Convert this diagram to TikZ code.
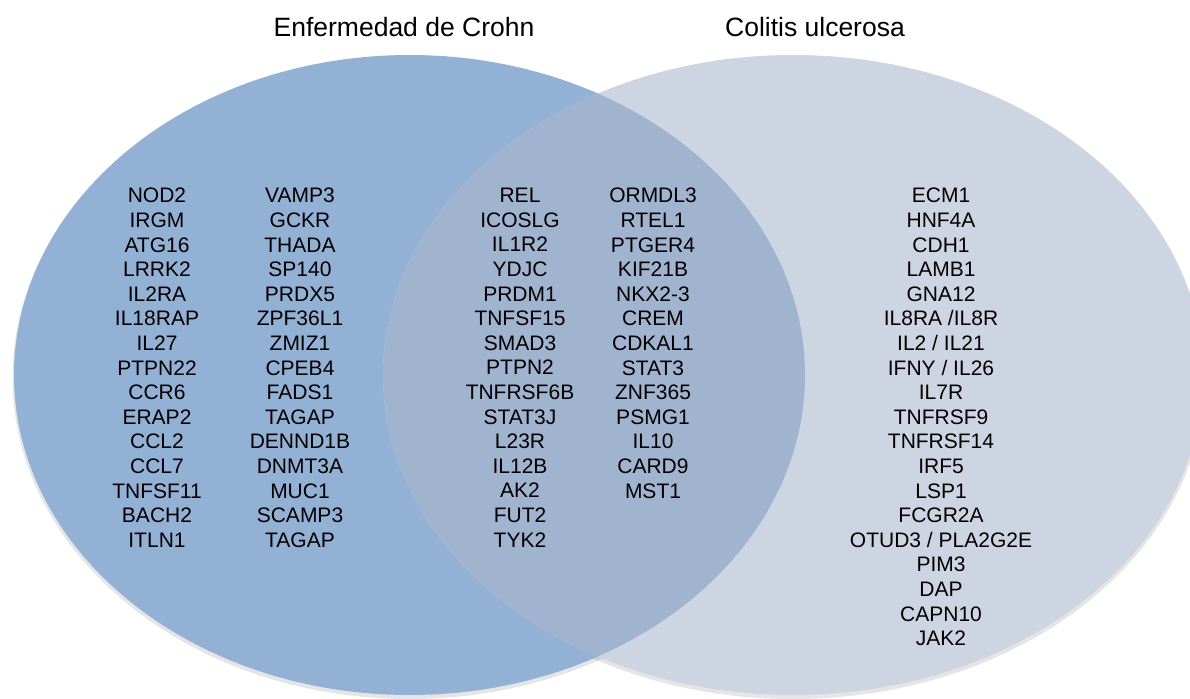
\documentclass[tikz,border=0pt]{standalone}
\usepackage{fontspec}
\setmainfont{Liberation Sans}
\usepackage{tikz}

\definecolor{crohnblue}{RGB}{147,176,213}
\definecolor{colitisgrey}{RGB}{206,213,226}
\definecolor{sharedblue}{RGB}{160,179,207}

\tikzset{
	genes/.style = {align=center, inner sep=0pt, anchor=north, font=\fontsize{21}{24.6}\selectfont},
	heading/.style = {anchor=base, inner sep=0pt, font=\fontsize{26.5}{30}\selectfont}
}

\begin{document}
\begin{tikzpicture}[x = 1pt, y = -1pt]
	\def\yTOP{188};
	\def\cY{375};
	\def\rY{320};

	\useasboundingbox (0,0) rectangle (1190,698);

	\begin{scope}
		\clip (0,0) rectangle (1190,698);
		% soft shadow
		\fill[black, opacity = 0.10] (409.5,\cY+3) ellipse [x radius = 397, y radius = \rY+1];
		\fill[black, opacity = 0.10] (793,\cY+3) ellipse [x radius = 411.5, y radius = \rY+1];

		\fill[crohnblue] (409.5,\cY) ellipse [x radius = 395.5, y radius = \rY];
		\fill[colitisgrey] (793,\cY) ellipse [x radius = 410, y radius = \rY];
		\begin{scope}
			\clip (409.5,\cY) ellipse [x radius = 395.5, y radius = \rY];
			\fill[sharedblue] (793,\cY) ellipse [x radius = 410, y radius = \rY];
		\end{scope}
	\end{scope}

	\node[heading] (crohnTitle) at (404,37) {Enfermedad de Crohn};
	\node[heading] (colitisTitle) at (815,37) {Colitis ulcerosa};

	\node[genes] (crohnA) at (157,\yTOP) {NOD2\\IRGM\\ATG16\\LRRK2\\IL2RA\\IL18RAP\\IL27\\PTPN22\\CCR6\\ERAP2\\CCL2\\CCL7\\TNFSF11\\BACH2\\ITLN1};
	\node[genes] (crohnB) at (300,\yTOP) {VAMP3\\GCKR\\THADA\\SP140\\PRDX5\\ZPF36L1\\ZMIZ1\\CPEB4\\FADS1\\TAGAP\\DENND1B\\DNMT3A\\MUC1\\SCAMP3\\TAGAP};

	\node[genes] (sharedA) at (520,\yTOP) {REL\\ICOSLG\\IL1R2\\YDJC\\PRDM1\\TNFSF15\\SMAD3\\PTPN2\\TNFRSF6B\\STAT3J\\L23R\\IL12B\\AK2\\FUT2\\TYK2};
	\node[genes] (sharedB) at (653,\yTOP) {ORMDL3\\RTEL1\\PTGER4\\KIF21B\\NKX2-3\\CREM\\CDKAL1\\STAT3\\ZNF365\\PSMG1\\IL10\\CARD9\\MST1};

	\node[genes] (colitis) at (941,\yTOP) {ECM1\\HNF4A\\CDH1\\LAMB1\\GNA12\\IL8RA /IL8R\\IL2 / IL21\\IFNY / IL26\\IL7R\\TNFRSF9\\TNFRSF14\\IRF5\\LSP1\\FCGR2A\\OTUD3 / PLA2G2E\\PIM3\\DAP\\CAPN10\\JAK2};
\end{tikzpicture}
\end{document}
